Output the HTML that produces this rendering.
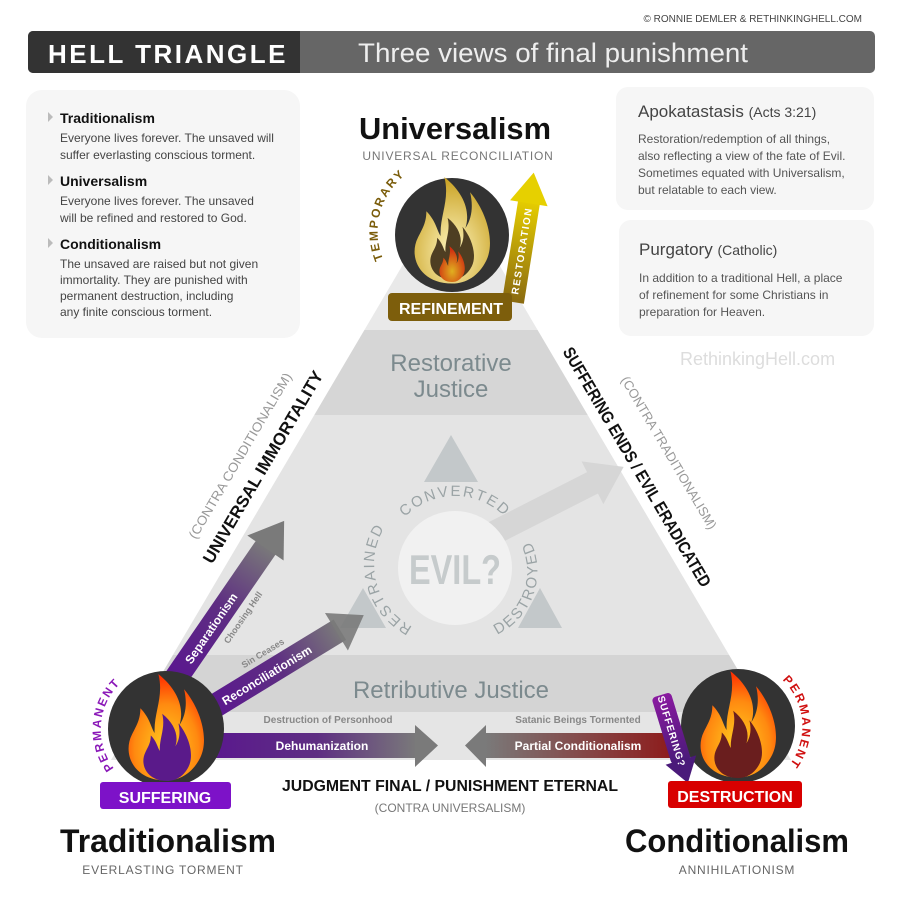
<!DOCTYPE html>
<html><head><meta charset="utf-8"><style>
html,body{margin:0;padding:0;background:#fff;}
svg{display:block;font-family:"Liberation Sans",sans-serif;}
</style></head><body>
<svg width="901" height="915" viewBox="0 0 901 915" xmlns="http://www.w3.org/2000/svg">
<defs>
<linearGradient id="gPur" x1="0" x2="1" y1="0" y2="0"><stop offset="0" stop-color="#5a1590"/><stop offset="0.55" stop-color="#5e2e82"/><stop offset="1" stop-color="#7a7a7a"/></linearGradient>
<linearGradient id="gRed" x1="0" x2="1" y1="0" y2="0"><stop offset="0" stop-color="#7a7a7a"/><stop offset="1" stop-color="#8e1a1a"/></linearGradient>
<linearGradient id="gYel" x1="0" x2="1"><stop offset="0" stop-color="#8a6a10"/><stop offset="1" stop-color="#e8d000"/></linearGradient>
<linearGradient id="gSufA" x1="0" x2="1"><stop offset="0" stop-color="#8a1aa0"/><stop offset="1" stop-color="#4a1a7a"/></linearGradient>
<radialGradient id="fOr" cx="0.5" cy="0.7" r="0.7"><stop offset="0" stop-color="#ffd020"/><stop offset="0.6" stop-color="#ff8a10"/><stop offset="1" stop-color="#ff2a00"/></radialGradient>
<radialGradient id="fGold" cx="0.5" cy="0.7" r="0.7"><stop offset="0" stop-color="#fff6c0"/><stop offset="1" stop-color="#c8a020"/></radialGradient>
<radialGradient id="fInR" cx="0.5" cy="0.7" r="0.6"><stop offset="0" stop-color="#e0b020"/><stop offset="1" stop-color="#d03010"/></radialGradient>
<path id="flame" d="M0,50 C-34,50 -46,22 -36,2 C-31,-8 -27,-14 -27,-26 C-17,-16 -16,-6 -12,0 C-13,-22 -2,-38 -8,-62 C12,-46 20,-26 14,-8 C22,-20 22,-34 19,-46 C36,-26 46,6 36,26 C28,42 15,50 0,50Z"/>
<path id="arcTemp" d="M390,272 A72,72 0 0,1 418,167"/>
<path id="arcPermL" d="M120,775 A64,64 0 0,1 128,677"/>
<path id="arcPermR" d="M779,677 A64,64 0 0,1 786,769"/>
<path id="arcConv" d="M390,540 A70,70 0 0,1 520,540"/>
<path id="arcRest" d="M420,630 A70,70 0 0,1 390,520"/>
<path id="arcDest" d="M480,640 A70,70 0 0,0 520,525"/>
<clipPath id="triClip"><polygon points="451,183 791,760 111,760"/></clipPath>
</defs>

<text x="862" y="22" font-size="10" fill="#444" text-anchor="end">© RONNIE DEMLER &amp; RETHINKINGHELL.COM</text>
<rect x="28" y="31" width="847" height="42" rx="5" fill="#666"/>
<path d="M33,31 H300 V73 H33 A5,5 0 0,1 28,68 V36 A5,5 0 0,1 33,31Z" fill="#333"/>
<text x="168" y="63" font-size="26" font-weight="bold" fill="#fff" text-anchor="middle" letter-spacing="2.5">HELL TRIANGLE</text>
<text x="358" y="62" font-size="27" fill="#eee" textLength="390" lengthAdjust="spacingAndGlyphs">Three views of final punishment</text>

<rect x="26" y="90" width="274" height="248" rx="16" fill="#f6f6f6"/>
<g font-size="12" fill="#444">
<polygon points="48,112 48,122 53,117" fill="#bbb"/>
<text x="60" y="123" font-size="14" font-weight="bold" fill="#111">Traditionalism</text>
<text x="60" y="142">Everyone lives forever. The unsaved will</text>
<text x="60" y="159">suffer everlasting conscious torment.</text>
<polygon points="48,175 48,185 53,180" fill="#bbb"/>
<text x="60" y="186" font-size="14" font-weight="bold" fill="#111">Universalism</text>
<text x="60" y="205">Everyone lives forever. The unsaved</text>
<text x="60" y="222">will be refined and restored to God.</text>
<polygon points="48,238 48,248 53,243" fill="#bbb"/>
<text x="60" y="249" font-size="14" font-weight="bold" fill="#111">Conditionalism</text>
<text x="60" y="268">The unsaved are raised but not given</text>
<text x="60" y="284">immortality. They are punished with</text>
<text x="60" y="300">permanent destruction, including</text>
<text x="60" y="316">any finite conscious torment.</text>
</g>

<rect x="616" y="87" width="258" height="123" rx="12" fill="#f6f6f6"/>
<rect x="619" y="220" width="255" height="116" rx="12" fill="#f6f6f6"/>
<g font-size="12" fill="#555">
<text x="638" y="117" font-size="17" fill="#444">Apokatastasis <tspan font-size="14">(Acts 3:21)</tspan></text>
<text x="638" y="143">Restoration/redemption of all things,</text>
<text x="638" y="160">also reflecting a view of the fate of Evil.</text>
<text x="638" y="177">Sometimes equated with Universalism,</text>
<text x="638" y="194">but relatable to each view.</text>
<text x="639" y="255" font-size="17" fill="#444">Purgatory <tspan font-size="14">(Catholic)</tspan></text>
<text x="639" y="282">In addition to a traditional Hell, a place</text>
<text x="639" y="299">of refinement for some Christians in</text>
<text x="639" y="316">preparation for Heaven.</text>
</g>
<text x="680" y="365" font-size="18" fill="#ddd">RethinkingHell.com</text>

<g clip-path="url(#triClip)">
<rect x="0" y="180" width="901" height="150" fill="#e9e9e9"/>
<rect x="0" y="330" width="901" height="85" fill="#d6d6d6"/>
<rect x="0" y="415" width="901" height="240" fill="#e4e4e4"/>
<rect x="0" y="655" width="901" height="57" fill="#d4d4d4"/>
<rect x="0" y="712" width="901" height="48" fill="#e5e5e5"/>
</g>
<text x="451" y="371" font-size="24" fill="#7c8a8e" text-anchor="middle">Restorative</text>
<text x="451" y="397" font-size="24" fill="#7c8a8e" text-anchor="middle">Justice</text>
<text x="451" y="698" font-size="24" fill="#7c8a8e" text-anchor="middle">Retributive Justice</text>

<g transform="translate(490,535) rotate(-27)"><rect x="0" y="-12" width="120" height="24" fill="#d6d6d6"/><polygon points="115,-24 150,0 115,24" fill="#d6d6d6"/></g>
<polygon points="451,435 424,482 478,482" fill="#c3c8ca"/>
<polygon points="363,588 340,628 386,628" fill="#c3c8ca"/>
<polygon points="540,588 518,628 562,628" fill="#c3c8ca"/>
<circle cx="455" cy="568" r="57" fill="#f1f1f1"/>
<text x="455" y="584" font-size="42" font-weight="bold" fill="#c6cbcc" text-anchor="middle" textLength="92" lengthAdjust="spacingAndGlyphs">EVIL?</text>
<g font-size="15" fill="#9aa3a5" letter-spacing="2">
<text><textPath href="#arcConv" startOffset="50%" text-anchor="middle">CONVERTED</textPath></text>
<text><textPath href="#arcRest" startOffset="50%" text-anchor="middle">RESTRAINED</textPath></text>
<text><textPath href="#arcDest" startOffset="50%" text-anchor="middle">DESTROYED</textPath></text>
</g>

<g transform="translate(268,470) rotate(-59.5)"><text font-size="17" font-weight="bold" fill="#111" text-anchor="middle" textLength="220" lengthAdjust="spacingAndGlyphs">UNIVERSAL IMMORTALITY</text></g>
<g transform="translate(244,458) rotate(-59.5)"><text font-size="13" fill="#999" text-anchor="middle" textLength="190" lengthAdjust="spacingAndGlyphs">(CONTRA CONDITIONALISM)</text></g>
<g transform="translate(632,470) rotate(59.5)"><text font-size="17" font-weight="bold" fill="#111" text-anchor="middle" textLength="275" lengthAdjust="spacingAndGlyphs">SUFFERING ENDS / EVIL ERADICATED</text></g>
<g transform="translate(665,455) rotate(59.5)"><text font-size="13" fill="#999" text-anchor="middle" textLength="175" lengthAdjust="spacingAndGlyphs">(CONTRA TRADITIONALISM)</text></g>

<g transform="translate(172,684) rotate(-55.5)">
<rect x="0" y="-12" width="168" height="24" fill="url(#gPur)"/><polygon points="165,-22 198,0 165,22" fill="#7a7a7a"/>
<text x="68" y="5" font-size="12" font-weight="bold" fill="#fff" text-anchor="middle">Separationism</text>
<text x="95" y="24" font-size="9" font-weight="bold" fill="#888" text-anchor="middle">Choosing Hell</text>
</g>
<g transform="translate(205,712) rotate(-31.4)">
<rect x="0" y="-12" width="158" height="24" fill="url(#gPur)"/><polygon points="154,-22 186,0 154,22" fill="#7a7a7a" opacity="0.9"/>
<text x="72" y="5" font-size="12" font-weight="bold" fill="#fff" text-anchor="middle">Reconciliationism</text>
<text x="80" y="-17" font-size="9" font-weight="bold" fill="#888" text-anchor="middle">Sin Ceases</text>
</g>
<rect x="195" y="733" width="222" height="25" fill="url(#gPur)"/>
<polygon points="415,725 438,745.5 415,767" fill="#7a7a7a"/>
<text x="322" y="750" font-size="12" font-weight="bold" fill="#fff" text-anchor="middle">Dehumanization</text>
<text x="328" y="723" font-size="10" font-weight="bold" fill="#888" text-anchor="middle">Destruction of Personhood</text>
<rect x="485" y="733" width="190" height="25" fill="url(#gRed)"/>
<polygon points="486,725 465,745.5 486,767" fill="#7a7a7a"/>
<text x="578" y="750" font-size="12" font-weight="bold" fill="#fff" text-anchor="middle">Partial Conditionalism</text>
<text x="578" y="723" font-size="10" font-weight="bold" fill="#888" text-anchor="middle">Satanic Beings Tormented</text>

<text x="450" y="791" font-size="16" font-weight="bold" fill="#111" text-anchor="middle" textLength="336" lengthAdjust="spacingAndGlyphs">JUDGMENT FINAL / PUNISHMENT ETERNAL</text>
<text x="450" y="812" font-size="12" fill="#777" text-anchor="middle">(CONTRA UNIVERSALISM)</text>

<text x="455" y="139" font-size="31" font-weight="bold" fill="#111" text-anchor="middle" textLength="192" lengthAdjust="spacingAndGlyphs">Universalism</text>
<text x="458" y="160" font-size="12" fill="#777" text-anchor="middle" letter-spacing="0.8">UNIVERSAL RECONCILIATION</text>
<circle cx="452" cy="235" r="57" fill="#333"/>
<use href="#flame" transform="translate(452,236) scale(0.95)" fill="url(#fGold)"/>
<use href="#flame" transform="translate(452,252) scale(0.55)" fill="#4e3e22"/>
<use href="#flame" transform="translate(452,266) scale(0.32)" fill="url(#fInR)"/>
<text font-size="12" font-weight="bold" fill="#7a5c0a" letter-spacing="2"><textPath href="#arcTemp" startOffset="50%" text-anchor="middle">TEMPORARY</textPath></text>
<g transform="translate(513,302) rotate(-80.9)">
<rect x="0" y="-11" width="105" height="22" fill="url(#gYel)"/><polygon points="100,-19 131,0 100,19" fill="#e6d000"/>
<text x="52" y="4" font-size="10" font-weight="bold" fill="#fff" text-anchor="middle" letter-spacing="1.5">RESTORATION</text>
</g>
<rect x="388" y="293" width="124" height="28" rx="4" fill="#7d5e0c"/>
<text x="451" y="314" font-size="16" font-weight="bold" fill="#fff" text-anchor="middle">REFINEMENT</text>

<circle cx="166" cy="729" r="58" fill="#333"/>
<use href="#flame" transform="translate(166,733) scale(0.95)" fill="url(#fOr)"/>
<use href="#flame" transform="translate(167,751) scale(0.6)" fill="#5a1a8a"/>
<text font-size="12" font-weight="bold" fill="#8a18b8" letter-spacing="2"><textPath href="#arcPermL" startOffset="50%" text-anchor="middle">PERMANENT</textPath></text>
<rect x="100" y="782" width="131" height="27" rx="3" fill="#7d12c8"/>
<text x="165" y="803" font-size="16" font-weight="bold" fill="#fff" text-anchor="middle">SUFFERING</text>
<text x="168" y="852" font-size="32" font-weight="bold" fill="#111" text-anchor="middle" textLength="216" lengthAdjust="spacingAndGlyphs">Traditionalism</text>
<text x="163" y="874" font-size="12" fill="#666" text-anchor="middle" letter-spacing="0.8">EVERLASTING TORMENT</text>

<circle cx="738" cy="726" r="57" fill="#333"/>
<use href="#flame" transform="translate(738,730) scale(0.95)" fill="url(#fOr)"/>
<use href="#flame" transform="translate(738,748) scale(0.6)" fill="#6a1e1e"/>
<text font-size="12" font-weight="bold" fill="#d01010" letter-spacing="2"><textPath href="#arcPermR" startOffset="50%" text-anchor="middle">PERMANENT</textPath></text>
<g transform="translate(661,695) rotate(73)">
<rect x="0" y="-10" width="70" height="20" rx="4" fill="url(#gSufA)"/><polygon points="68,-16 92,0 68,16" fill="#4a1a7a"/>
<text x="38" y="4" font-size="10" font-weight="bold" fill="#fff" text-anchor="middle" letter-spacing="1">SUFFERING?</text>
</g>
<rect x="668" y="781" width="134" height="27" rx="3" fill="#d80000"/>
<text x="735" y="802" font-size="16" font-weight="bold" fill="#fff" text-anchor="middle">DESTRUCTION</text>
<text x="737" y="852" font-size="32" font-weight="bold" fill="#111" text-anchor="middle" textLength="224" lengthAdjust="spacingAndGlyphs">Conditionalism</text>
<text x="737" y="874" font-size="12" fill="#666" text-anchor="middle" letter-spacing="0.8">ANNIHILATIONISM</text>
</svg>
</body></html>
